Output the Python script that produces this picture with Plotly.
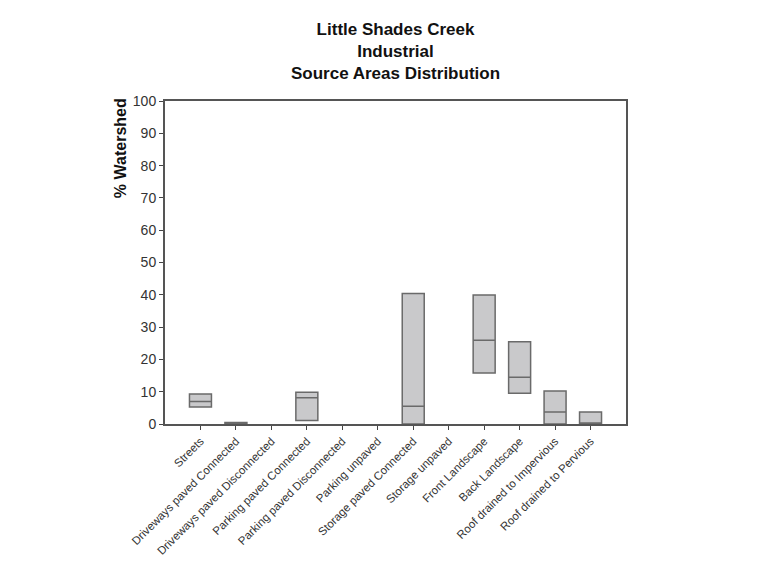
import plotly.graph_objects as go

# Source area categories
categories = [
    "Streets",
    "Driveways paved Connected",
    "Driveways paved Disconnected",
    "Parking paved Connected",
    "Parking paved Disconnected",
    "Parking unpaved",
    "Storage paved Connected",
    "Storage unpaved",
    "Front Landscape",
    "Back Landscape",
    "Roof drained to Impervious",
    "Roof drained to Pervious",
]

# Percent of watershed: lower quartile, median, upper quartile (None = no data)
q1 =     [5.3, 0.1, None, 1.1, None, None, 0.0, None, 15.8, 9.5, 0.0, 0.0]
median = [7.0, 0.3, None, 8.1, None, None, 5.5, None, 25.9, 14.5, 3.7, 0.0]
q3 =     [9.3, 0.5, None, 9.8, None, None, 40.4, None, 39.9, 25.5, 10.2, 3.7]

y_ticks = list(range(0, 101, 10))

font_family = "Arial, Liberation Sans, sans-serif"

idx = [i for i, v in enumerate(q1) if v is not None]
xs = [categories[i] for i in idx]

fig = go.Figure()
fig.add_trace(go.Box(
    x=xs,
    q1=[q1[i] for i in idx],
    median=[median[i] for i in idx],
    q3=[q3[i] for i in idx],
    lowerfence=[q1[i] for i in idx],
    upperfence=[q3[i] for i in idx],
    width=0.62,
    whiskerwidth=0,
    fillcolor="#c9c9cb",
    line=dict(color="#6a6a6a", width=1.5),
    showlegend=False,
    hoverinfo="skip",
))

fig.update_layout(
    width=771,
    height=561,
    paper_bgcolor="white",
    plot_bgcolor="white",
    margin=dict(l=165, r=145, t=101, b=137),
    font=dict(family=font_family, color="#222222"),
    title=dict(
        text="<b>Little Shades Creek<br>Industrial<br>Source Areas Distribution</b>",
        x=(165 + 626) / 2 / 771,
        xanchor="center",
        y=1 - 35 / 561,
        yanchor="top",
        font=dict(size=17, family=font_family, color="#111111"),
    ),
    xaxis=dict(
        type="category",
        categoryorder="array",
        categoryarray=categories,
        range=[-1, len(categories)],
        tickangle=-45,
        ticks="outside",
        ticklen=4,
        tickcolor="#444444",
        tickfont=dict(size=11.5, color="#333333"),
        showline=True,
        linecolor="#555555",
        linewidth=2,
        mirror=True,
        showgrid=False,
        zeroline=False,
        automargin=False,
    ),
    yaxis=dict(
        range=[0, 100],
        tickvals=y_ticks,
        ticks="outside",
        ticklen=4,
        tickcolor="#444444",
        tickfont=dict(size=14, color="#333333"),
        showline=True,
        linecolor="#555555",
        linewidth=2,
        mirror=True,
        showgrid=False,
        zeroline=False,
        automargin=False,
    ),
    annotations=[
        dict(
            text="<b>% Watershed</b>",
            textangle=-90,
            xref="paper", yref="paper",
            x=(120 - 165) / 461, y=1.015,
            xanchor="center", yanchor="top",
            showarrow=False,
            font=dict(size=16, family=font_family, color="#111111"),
        )
    ],
)

fig.write_html("out.html")
